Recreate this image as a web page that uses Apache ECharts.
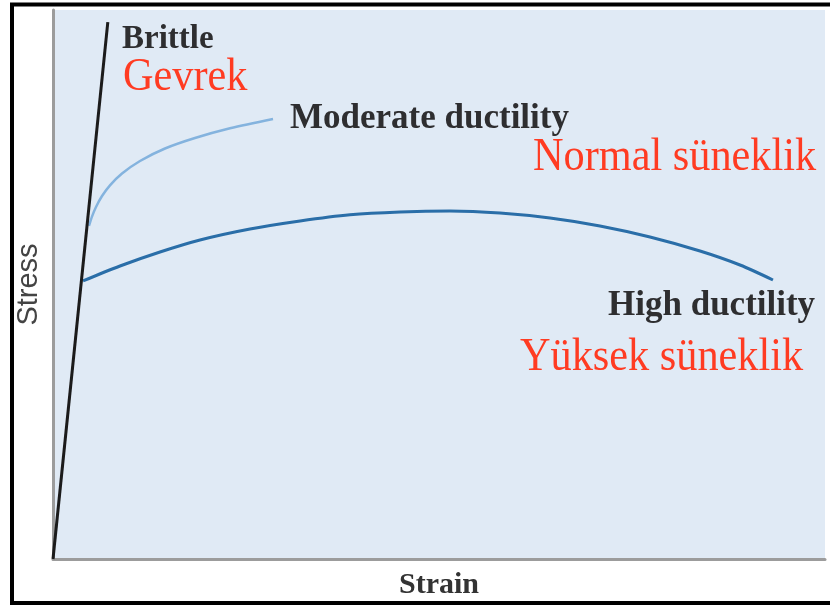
<!DOCTYPE html>
<html>
<head>
<meta charset="utf-8">
<script src="https://cdn.jsdelivr.net/npm/echarts@6/dist/echarts.min.js"></script>
<style>
  html, body { margin: 0; padding: 0; background: #ffffff; }
  #chart { width: 830px; height: 607px; }
</style>
</head>
<body>
<div id="chart"></div>
<script>
// Stress–strain behaviour of three kinds of material (strain %, stress % of axis)
const brittle = [[0, 0], [7.1, 97.8]];

const moderateDuctility = [
  [4.66, 60.66], [5.05, 62.37], [5.57, 64.13], [6.35, 66.12], [7.38, 68.07],
  [8.94, 70.22], [11.27, 72.50], [14.51, 74.77], [18.39, 76.68], [22.93, 78.45],
  [28.50, 80.15]
];

const highDuctility = [
  [3.89, 50.64], [8.68, 53.37], [13.86, 55.92], [19.04, 58.11], [25.52, 60.11],
  [32.00, 61.57], [38.47, 62.70], [44.95, 63.21], [51.42, 63.39], [57.90, 63.02],
  [64.38, 62.11], [70.85, 60.66], [77.33, 58.65], [83.81, 56.10], [88.99, 53.55],
  [93.26, 50.82]
];

const axisTitles = { x: 'Strain', y: 'Stress' };

const curveLabels = [
  { text: 'Brittle',            x: 122, y: 23,  size: 33, kind: 'en' },
  { text: 'Gevrek',             x: 123, y: 54,  size: 47, kind: 'tr' },
  { text: 'Moderate ductility', x: 290, y: 101, size: 35, kind: 'en' },
  { text: 'Normal süneklik',    x: 533, y: 134, size: 47, kind: 'tr' },
  { text: 'High ductility',     x: 608, y: 288, size: 35, kind: 'en' },
  { text: 'Yüksek süneklik',    x: 520, y: 334, size: 47, kind: 'tr' }
];

const serif = '"Liberation Serif", "Times New Roman", serif';

const chart = echarts.init(document.getElementById('chart'), null, { renderer: 'canvas' });

const labelGraphics = curveLabels.map(l => {
  const tr = l.kind === 'tr';
  return {
    type: 'text',
    x: l.x,
    y: l.y,
    scaleX: tr ? 0.9 : 1,
    z: 100,
    style: {
      text: l.text,
      fill: tr ? '#ff3b22' : '#2e2e30',
      font: (tr ? 'normal ' : 'bold ') + l.size + 'px ' + serif
    }
  };
});

const axisBase = {
  type: 'value',
  min: 0,
  max: 100,
  axisLine: { show: true, lineStyle: { color: '#9c9c9c', width: 3 } },
  axisTick: { show: false },
  axisLabel: { show: false },
  splitLine: { show: false }
};

chart.setOption({
  animation: false,
  backgroundColor: '#ffffff',
  grid: {
    left: 53, top: 10, right: 5, bottom: 48,
    show: true, backgroundColor: '#e0eaf5', borderWidth: 0
  },
  xAxis: Object.assign({}, axisBase, {
    name: axisTitles.x,
    nameLocation: 'middle',
    nameGap: 11,
    nameTextStyle: { fontFamily: serif, fontSize: 30, fontWeight: 'bold', color: '#333333' }
  }),
  yAxis: Object.assign({}, axisBase, {
    name: axisTitles.y,
    nameLocation: 'middle',
    nameGap: 10,
    nameTextStyle: { fontFamily: '"Liberation Sans", Arial, sans-serif', fontSize: 29, color: '#444444' }
  }),
  series: [
    {
      name: 'Brittle', type: 'line', data: brittle, showSymbol: false,
      lineStyle: { color: '#1b1b1b', width: 3 }, z: 4
    },
    {
      name: 'Moderate ductility', type: 'line', data: moderateDuctility, showSymbol: false,
      smooth: 0.3, lineStyle: { color: '#84b3de', width: 2.5 }, z: 3
    },
    {
      name: 'High ductility', type: 'line', data: highDuctility, showSymbol: false,
      smooth: 0.3, lineStyle: { color: '#2a6ea8', width: 3 }, z: 3
    }
  ],
  graphic: [
    {
      type: 'rect', z: 200, silent: true,
      shape: { x: 12, y: 4.5, width: 830, height: 598.5 },
      style: { fill: 'none', stroke: '#000000', lineWidth: 4 }
    }
  ].concat(labelGraphics)
});
</script>
</body>
</html>
